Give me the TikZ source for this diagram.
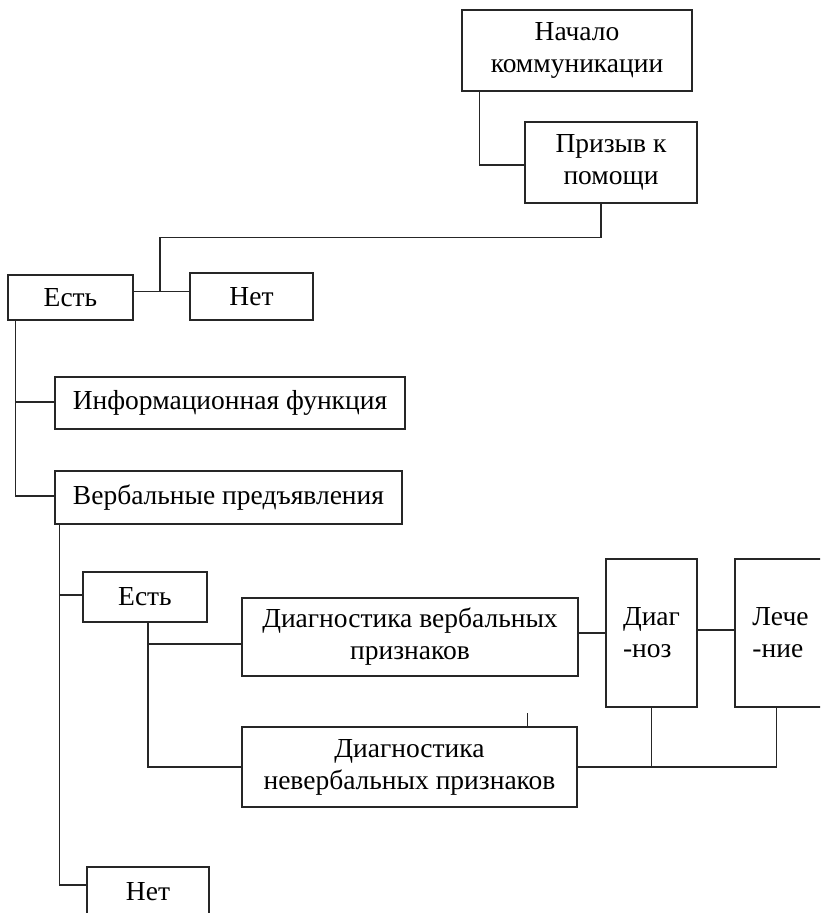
\documentclass[tikz,border=0pt]{standalone}
\usepackage{fontspec}
\setmainfont{Liberation Serif}
\usetikzlibrary{positioning}
\colorlet{linia}{black!85}

\begin{document}
\begin{tikzpicture}[x=1pt,y=-1pt,line width=1.2pt,draw=linia]%
        \clip (0,0) rectangle (820,913); %%
        \begin{scope}
        \tikzstyle{every node}=[draw=linia,line width=1.2pt,shape=rectangle,inner sep=0pt,align=center,font=\fontsize{27.5}{32}\selectfont] %%
        \node[minimum width=230,minimum height=81] (nach) at (577,50.5) {Начало\\коммуникации}; %%
        \node[minimum width=172,minimum height=81] (priz) at (611,162.5) {Призыв к\\помощи}; %%
        \node[minimum width=125,minimum height=45] (est1) at (70.5,297.5) {Есть}; %%
        \node[minimum width=123,minimum height=47] (net1) at (251.5,296.5) {Нет}; %%
        \node[minimum width=350,minimum height=52] (info) at (230,403) {Информационная функция}; %%
        \node[minimum width=347,minimum height=53] (verb) at (228.5,497.5) {Вербальные предъявления}; %%
        \node[minimum width=124,minimum height=50] (est2) at (145,597) {Есть}; %%
        \node[minimum width=122,minimum height=50] (net2) at (148,892) {Нет}; %%
        \node[minimum width=336,minimum height=78] (dverb) at (410,637) {Диагностика вербальных\\признаков}; %%
        \node[minimum width=335,minimum height=80] (dnev) at (409.5,767) {Диагностика\\невербальных признаков}; %%
        \node[minimum width=91,minimum height=148,align=left] (diag) at (651.5,633) {Диаг\\-ноз}; %%
        \node[minimum width=91,minimum height=148,align=left] (lech) at (780.5,633) {Лече\\-ние}; %%
        \end{scope}
        \coordinate (razv) at (160,291); %%
        \coordinate (lechniz) at ([xshift=-4pt]lech.south); %%
        \draw ([xshift=18pt]nach.south west) |- ([yshift=-2.5pt]priz.west); %%
        \draw ([xshift=-10pt]priz.south) -- ++(0,34) -| (razv); %%
        \draw ([yshift=6pt]est1.east) -- ([yshift=5pt]net1.west); %%
        \draw ([xshift=8pt]est1.south west) |- ([yshift=1pt]info.west); %%
        \draw ([xshift=8pt]est1.south west) |- ([yshift=1.5pt]verb.west); %%
        \draw ([xshift=5pt]verb.south west) |- ([yshift=2pt]est2.west); %%
        \draw ([xshift=5pt]verb.south west) |- ([yshift=7pt]net2.west); %%
        \draw ([xshift=3pt]est2.south) |- ([yshift=-7pt]dverb.west); %%
        \draw ([xshift=3pt]est2.south) |- (dnev.west); %%
        \draw (diag.west) -- (diag.west -| dverb.east); %%
        \draw ([yshift=3pt]diag.east) -- ([yshift=3pt]lech.west); %%
        \draw (diag.south) -- (diag.south |- dnev.east); %%
        \draw (lechniz) -- (lechniz |- dnev.east) -- (dnev.east); %%
        \draw ([xshift=118pt]dnev.north) -- ++(0,-13); %%
        \end{tikzpicture}
\end{document}
